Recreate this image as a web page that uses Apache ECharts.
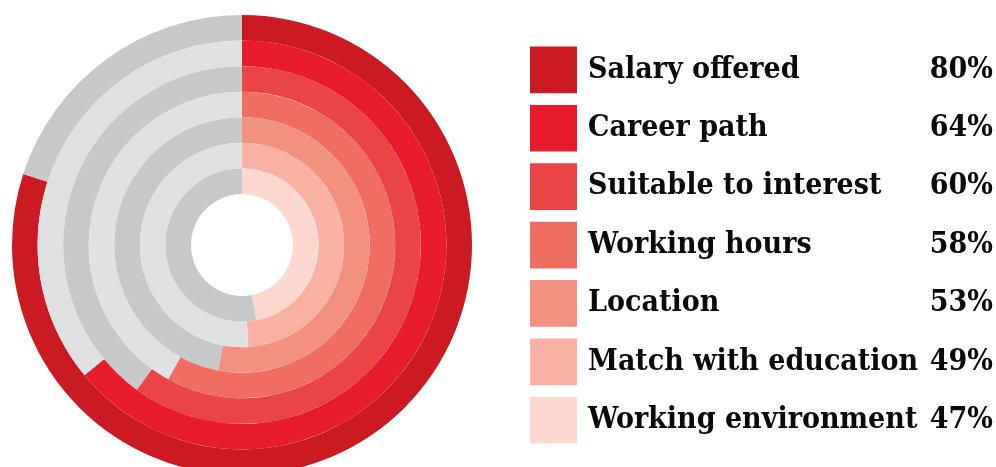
<!DOCTYPE html>
<html><head><meta charset="utf-8">
<script src="https://cdn.jsdelivr.net/npm/echarts@6/dist/echarts.min.js"></script>
<style>html,body{margin:0;padding:0;background:#fff}#c{width:996px;height:467px}</style>
</head><body><div id="c"></div>
<script>
const categories = ['Salary offered','Career path','Suitable to interest','Working hours','Location','Match with education','Working environment'];
const values = [80, 64, 60, 58, 53, 49, 47];
const redColors = ['#cb1a21','#e91c2e','#eb4446','#ef6d61','#f39180','#f8b1a3','#fcd8cf'];
const greyColors = ['#c7c8ca','#e0e1e3'];

const center = [242, 245];
const rOuter = 230, rInner = 51;
const w = (rOuter - rInner) / categories.length;

const series = categories.map((name, i) => ({
  type: 'pie',
  center: center,
  radius: [rOuter - (i + 1) * w, rOuter - i * w],
  startAngle: 90,
  clockwise: true,
  silent: true,
  label: { show: false },
  labelLine: { show: false },
  emphasis: { disabled: true },
  animation: false,
  itemStyle: { borderWidth: 0 },
  data: [
    { name: name, value: values[i], itemStyle: { color: redColors[i] } },
    { name: 'rest' + i, value: 100 - values[i], itemStyle: { color: greyColors[i % 2] } }
  ]
}));

const valueByName = {};
categories.forEach((c, i) => valueByName[c] = values[i]);

const chart = echarts.init(document.getElementById('c'), null, { renderer: 'canvas' });
chart.setOption({
  animation: false,
  legend: {
    orient: 'vertical',
    left: 530,
    top: 46.5,
    padding: 0,
    itemWidth: 47,
    itemHeight: 46.7,
    itemGap: 11.7,
    icon: 'rect',
    selectedMode: false,
    data: categories,
    formatter: n => '{n|' + n + '}{v|' + valueByName[n] + '%}',
    textStyle: {
      padding: [0, 0, 0, 6],
      rich: {
        n: { fontFamily: 'DejaVu Serif Condensed', fontWeight: 'bold', fontSize: 30, color: '#0a0a0a', width: 347 },
        v: { fontFamily: 'DejaVu Serif Condensed', fontWeight: 'bold', fontSize: 30, color: '#0a0a0a', width: 58, align: 'right' }
      }
    }
  },
  series: series
});
</script></body></html>
